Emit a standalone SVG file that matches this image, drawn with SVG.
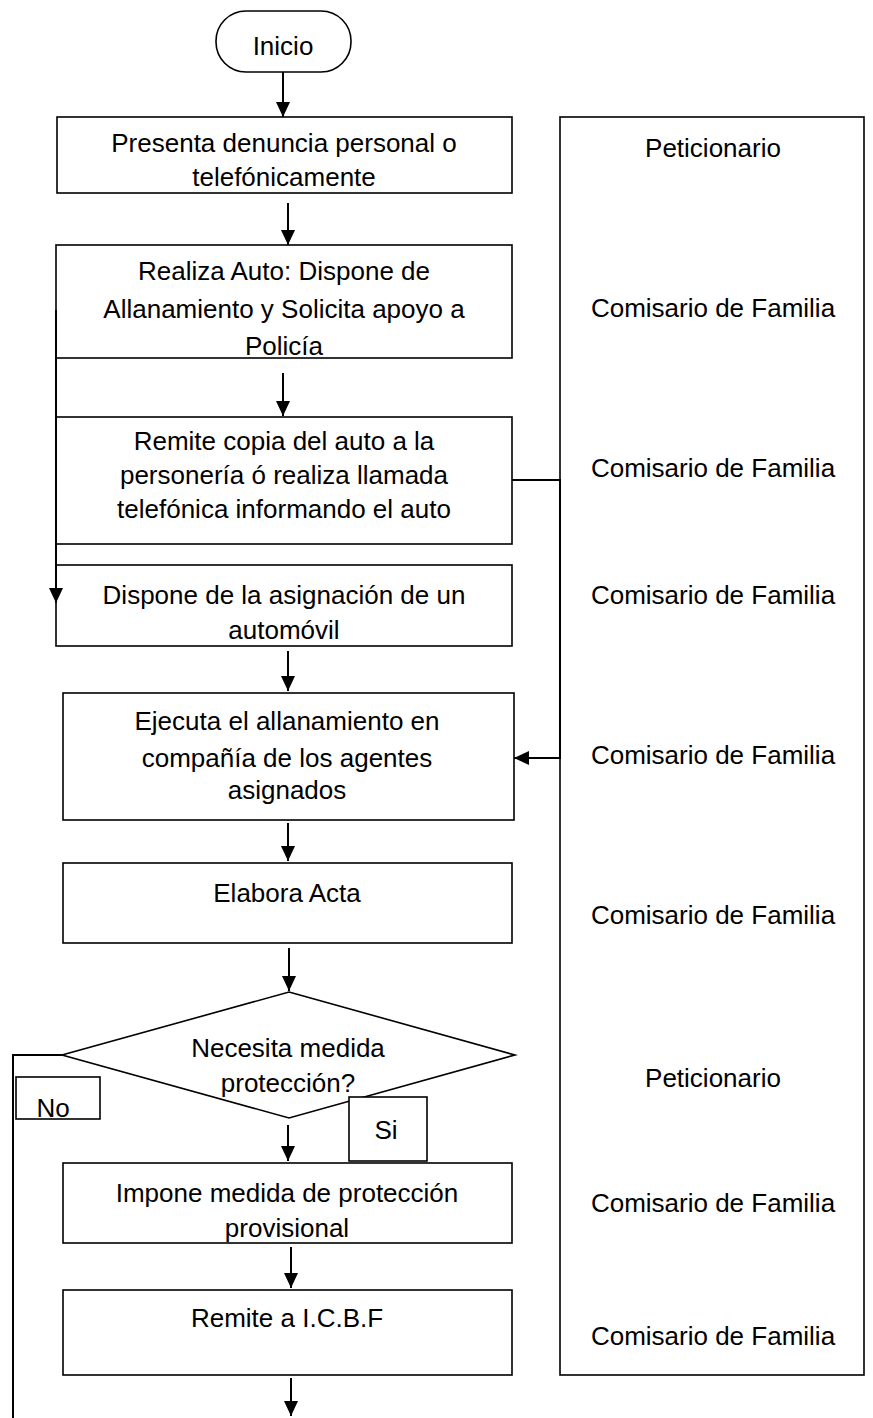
<svg xmlns="http://www.w3.org/2000/svg" width="873" height="1418" viewBox="0 0 873 1418">
<style>
.b{fill:#fff;stroke:#000;stroke-width:1.6}
.c{fill:none;stroke:#000;stroke-width:2}
text{font-family:"Liberation Sans",Arial,sans-serif;font-size:26px;fill:#000;text-anchor:middle}
</style>
<defs>
<marker id="ah" markerWidth="15" markerHeight="14" refX="15" refY="7" orient="auto" markerUnits="userSpaceOnUse">
<path d="M0,0 L15,7 L0,14 Z" fill="#000"/>
</marker>
</defs>
<rect width="873" height="1418" fill="#fff"/>
<g id="lane">
<rect class="b" x="560" y="117" width="304" height="1258"/>
<text x="713" y="157">Peticionario</text>
<text x="713" y="317">Comisario de Familia</text>
<text x="713" y="477">Comisario de Familia</text>
<text x="713" y="604">Comisario de Familia</text>
<text x="713" y="764">Comisario de Familia</text>
<text x="713" y="924">Comisario de Familia</text>
<text x="713" y="1087">Peticionario</text>
<text x="713" y="1212">Comisario de Familia</text>
<text x="713" y="1345">Comisario de Familia</text>
</g>
<g id="inicio">
<rect class="b" x="216" y="11" width="135" height="61" rx="30" ry="30"/>
<text x="283" y="55">Inicio</text>
</g>
<g id="n1">
<rect class="b" x="57" y="117" width="455" height="76"/>
<text x="284" y="152">Presenta denuncia personal o</text>
<text x="284" y="186">telefónicamente</text>
</g>
<g id="n2">
<rect class="b" x="56" y="245" width="456" height="113"/>
<text x="284" y="280">Realiza Auto: Dispone de</text>
<text x="284" y="318">Allanamiento y Solicita apoyo a</text>
<text x="284" y="355">Policía</text>
</g>
<g id="n3">
<rect class="b" x="56" y="417" width="456" height="127"/>
<text x="284" y="450">Remite copia del auto a la</text>
<text x="284" y="484">personería ó realiza llamada</text>
<text x="284" y="518">telefónica informando el auto</text>
</g>
<g id="n4">
<rect class="b" x="56" y="565" width="456" height="81"/>
<text x="284" y="604">Dispone de la asignación de un</text>
<text x="284" y="639">automóvil</text>
</g>
<g id="n5">
<rect class="b" x="63" y="693" width="451" height="127"/>
<text x="287" y="730">Ejecuta el allanamiento en</text>
<text x="287" y="767">compañía de los agentes</text>
<text x="287" y="799">asignados</text>
</g>
<g id="n6">
<rect class="b" x="63" y="863" width="449" height="80"/>
<text x="287" y="902">Elabora Acta</text>
</g>
<g id="d1">
<polygon class="b" points="289,992 515,1055 289,1118 62,1055"/>
<text x="288" y="1057">Necesita medida</text>
<text x="288" y="1092">protección?</text>
</g>
<g id="no">
<rect class="b" x="16" y="1077" width="84" height="42"/>
<text x="53" y="1117">No</text>
</g>
<g id="si">
<rect class="b" x="349" y="1097" width="78" height="64"/>
<text x="386" y="1139">Si</text>
</g>
<g id="n7">
<rect class="b" x="63" y="1163" width="449" height="80"/>
<text x="287" y="1202">Impone medida de protección</text>
<text x="287" y="1237">provisional</text>
</g>
<g id="n8">
<rect class="b" x="63" y="1290" width="449" height="85"/>
<text x="287" y="1327">Remite a I.C.B.F</text>
</g>
<g id="connectors">
<line class="c" x1="283" y1="72" x2="283" y2="117" marker-end="url(#ah)"/>
<line class="c" x1="288" y1="203" x2="288" y2="245" marker-end="url(#ah)"/>
<line class="c" x1="283" y1="373" x2="283" y2="416" marker-end="url(#ah)"/>
<line class="c" x1="288" y1="651" x2="288" y2="691" marker-end="url(#ah)"/>
<line class="c" x1="288" y1="823" x2="288" y2="861" marker-end="url(#ah)"/>
<line class="c" x1="289" y1="948" x2="289" y2="991" marker-end="url(#ah)"/>
<line class="c" x1="288" y1="1125" x2="288" y2="1161" marker-end="url(#ah)"/>
<line class="c" x1="291" y1="1247" x2="291" y2="1288" marker-end="url(#ah)"/>
<line class="c" x1="291" y1="1378" x2="291" y2="1416" marker-end="url(#ah)"/>
<polyline class="c" points="56,310 56,603" marker-end="url(#ah)"/>
<polyline class="c" points="512,480 560,480 560,758 514,758" marker-end="url(#ah)"/>
<polyline class="c" points="62,1055 13,1055 13,1418"/>
</g>
</svg>
